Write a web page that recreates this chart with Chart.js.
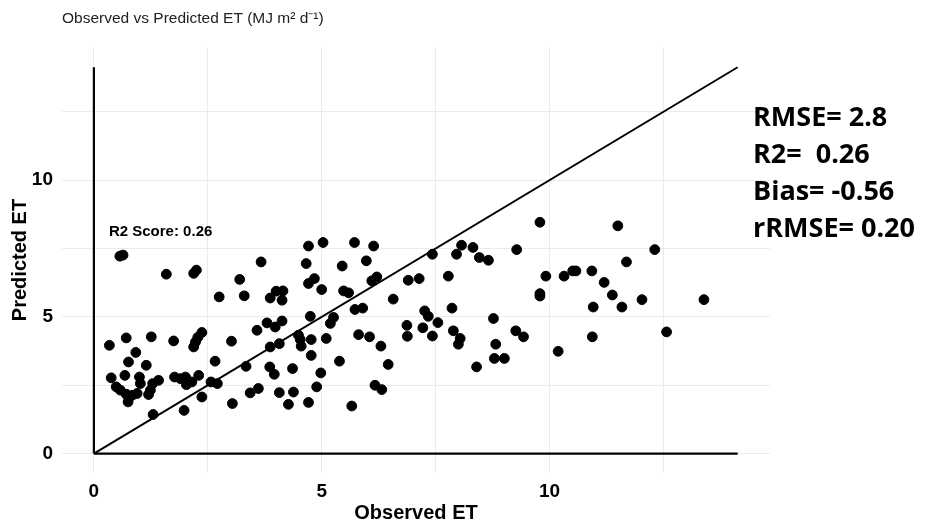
<!DOCTYPE html>
<html>
<head>
<meta charset="utf-8">
<script src="https://cdn.jsdelivr.net/npm/chart.js@4.4.1/dist/chart.umd.min.js"></script>
<style>
  html, body { margin: 0; padding: 0; background: #fff; }
  #wrap { width: 926px; height: 523px; position: relative; }
</style>
</head>
<body>
<div id="wrap"><canvas id="etChart"></canvas></div>
<script>
// Observed vs predicted ET
const observedET = [
    0.57, 0.64, 1.59, 2.19, 2.25, 3.2, 2.75, 3.3, 0.34, 0.71, 1.26, 1.75, 2.19, 2.23, 2.28, 2.37,
    3.02, 0.92, 0.76, 1.15, 2.66, 0.38, 0.68, 1.0, 1.02, 1.29, 1.42, 1.77, 1.9, 2.01, 2.03, 2.15,
    2.3, 2.57, 2.71, 0.49, 0.58, 0.71, 0.84, 0.95, 0.75, 1.2, 1.24, 2.37, 1.3, 1.98, 3.04,
    4.71, 5.03, 5.72, 6.14, 3.67, 4.66, 5.45, 5.98, 4.71, 4.84, 5.0, 5.48, 5.59, 6.1, 6.21, 6.9,
    3.87, 4.0, 4.15, 4.13, 5.73, 5.9, 6.57, 3.58, 3.8, 3.98, 4.13, 4.75, 5.26, 5.19, 6.87, 6.88,
    4.49, 4.53, 4.55, 4.77, 5.1, 3.87, 4.07, 5.81, 6.05, 6.3, 4.77, 3.34, 3.86, 3.96, 4.36, 5.39,
    4.98, 6.46, 3.43, 3.61, 4.07, 4.38, 4.89, 6.17, 6.32, 4.27, 4.71, 5.66,
    8.07, 7.96, 8.32, 8.46, 8.66, 7.43, 9.28, 7.14, 7.78, 9.92, 10.32, 9.79, 9.79, 7.26, 7.34, 7.86,
    7.22, 7.55, 7.43, 7.89, 8.04, 8.0, 8.77, 8.82, 8.79, 9.01, 8.4, 9.26, 9.43, 10.19,
    11.5, 12.31, 11.69, 10.51, 10.58, 10.93, 11.2, 11.38, 10.96, 11.59, 12.03, 13.39, 10.94, 12.57, 9.79
];
const predictedET = [
    7.22, 7.26, 6.56, 6.59, 6.71, 6.37, 5.73, 5.77, 3.96, 4.23, 4.27, 4.12, 3.9, 4.08, 4.25, 4.43,
    4.11, 3.7, 3.35, 3.23, 3.38, 2.77, 2.86, 2.8, 2.56, 2.56, 2.68, 2.8, 2.74, 2.8, 2.52, 2.62,
    2.86, 2.62, 2.56, 2.44, 2.32, 2.17, 2.13, 2.2, 1.89, 2.16, 2.32, 2.07, 1.43, 1.58, 1.83,
    7.59, 7.72, 7.72, 7.59, 7.01, 6.95, 6.86, 7.05, 6.22, 6.4, 6.0, 5.95, 5.88, 6.32, 6.46, 6.34,
    5.69, 5.94, 5.95, 5.61, 5.27, 5.32, 5.65, 4.51, 4.78, 4.63, 4.85, 5.02, 4.98, 4.76, 4.69, 4.29,
    4.33, 4.17, 3.93, 4.17, 4.21, 3.9, 4.02, 4.35, 4.27, 3.93, 3.59, 3.19, 3.17, 2.9, 3.11, 3.38,
    2.95, 3.26, 2.22, 2.38, 2.23, 2.25, 2.44, 2.5, 2.34, 1.8, 1.87, 1.74,
    7.62, 7.29, 7.54, 7.17, 7.07, 7.29, 7.46, 6.4, 6.49, 6.49, 6.49, 5.85, 5.76, 5.22, 5.02, 5.32,
    4.6, 4.79, 4.3, 4.49, 4.21, 4.0, 4.94, 4.0, 3.48, 3.48, 3.17, 4.49, 4.27, 3.74,
    8.33, 7.46, 7.01, 6.68, 6.68, 6.68, 6.26, 5.8, 5.36, 5.36, 5.63, 5.63, 4.27, 4.45, 8.46
];

const gridTicks = [0, 2.5, 5, 7.5, 10, 12.5];
const labelledTicks = [0, 5, 10];
const lineEnd = 14.13;          // 1:1 line and axis lines stop here
const xRange = [-0.7, 14.84];
const yRange = [-0.71, 14.87];

const chartTitle = 'Observed vs Predicted ET (MJ m\u00B2 d\u207B\u00B9)';
const xTitle = 'Observed ET';
const yTitle = 'Predicted ET';
const r2Label = 'R2 Score: 0.26';
const r2LabelAt = { x: 0.33, y: 7.95 };
const statLines = ['RMSE= 2.8', 'R2=  0.26', 'Bias= -0.56', 'rRMSE= 0.20'];

const points = observedET.map((v, i) => ({ x: v, y: predictedET[i] }));

const fontFamily = '"Liberation Sans", Arial, sans-serif';

const setTicks = scale => {
    scale.ticks = gridTicks.map(v => ({ value: v }));
};

// Extra text: title, axis titles, in-panel label and stats block
const textPlugin = {
    id: 'textPlugin',
    afterDraw(chart) {
        const ctx = chart.ctx;
        const { x, y } = chart.scales;
        const area = chart.chartArea;
        ctx.save();
        ctx.fillStyle = '#222';
        ctx.textBaseline = 'middle';
        ctx.textAlign = 'left';
        ctx.font = '15.5px ' + fontFamily;
        ctx.fillText(chartTitle, 62, 19);

        ctx.fillStyle = '#000';
        ctx.font = 'bold 20px ' + fontFamily;
        ctx.textAlign = 'center';
        ctx.fillText(xTitle, (area.left + area.right) / 2, 513);

        ctx.save();
        ctx.translate(20, (area.top + area.bottom) / 2);
        ctx.rotate(-Math.PI / 2);
        ctx.fillText(yTitle, 0, 0);
        ctx.restore();

        ctx.textAlign = 'left';
        ctx.textBaseline = 'alphabetic';
        ctx.font = 'bold 15px ' + fontFamily;
        ctx.fillText(r2Label, x.getPixelForValue(r2LabelAt.x), y.getPixelForValue(r2LabelAt.y));

        ctx.textBaseline = 'middle';
        ctx.font = 'bold 27px "Open Sans", sans-serif';
        statLines.forEach((t, i) => ctx.fillText(t, 753, 118 + i * 37));
        ctx.restore();
    }
};

const ctx = document.getElementById('etChart').getContext('2d');
new Chart(ctx, {
    type: 'scatter',
    data: {
        datasets: [
            {
                label: 'ET',
                data: points,
                backgroundColor: '#000',
                borderColor: '#000',
                pointRadius: 4.9,
                pointHoverRadius: 4.9
            },
            {
                label: '1:1',
                data: [{ x: 0, y: 0 }, { x: lineEnd, y: lineEnd }],
                showLine: true,
                borderColor: '#000',
                borderWidth: 2,
                pointRadius: 0
            },
            {
                label: 'x axis',
                data: [{ x: 0, y: 0 }, { x: lineEnd, y: 0 }],
                showLine: true,
                borderColor: '#000',
                borderWidth: 2.2,
                pointRadius: 0
            },
            {
                label: 'y axis',
                data: [{ x: 0, y: 0 }, { x: 0, y: lineEnd }],
                showLine: true,
                borderColor: '#000',
                borderWidth: 2.2,
                pointRadius: 0
            }
        ]
    },
    options: {
        responsive: true,
        maintainAspectRatio: false,
        animation: false,
        devicePixelRatio: 1,
        layout: { padding: { left: 0, right: 156, top: 47, bottom: 0 } },
        plugins: {
            legend: { display: false },
            tooltip: { enabled: false }
        },
        scales: {
            x: {
                type: 'linear',
                min: xRange[0],
                max: xRange[1],
                afterBuildTicks: setTicks,
                afterFit: scale => { scale.height = 50; },
                border: { display: false },
                grid: { color: '#ebebeb', lineWidth: 1, drawTicks: false },
                ticks: {
                    padding: 7,
                    color: '#000',
                    font: { family: fontFamily, size: 19, weight: 'bold' },
                    callback: v => labelledTicks.includes(v) ? String(v) : ''
                }
            },
            y: {
                type: 'linear',
                min: yRange[0],
                max: yRange[1],
                afterBuildTicks: setTicks,
                afterFit: scale => { scale.width = 62; },
                border: { display: false },
                grid: { color: '#ebebeb', lineWidth: 1, drawTicks: false },
                ticks: {
                    padding: 9,
                    color: '#000',
                    font: { family: fontFamily, size: 19, weight: 'bold' },
                    callback: v => labelledTicks.includes(v) ? String(v) : ''
                }
            }
        }
    },
    plugins: [textPlugin]
});
</script>
</body>
</html>
